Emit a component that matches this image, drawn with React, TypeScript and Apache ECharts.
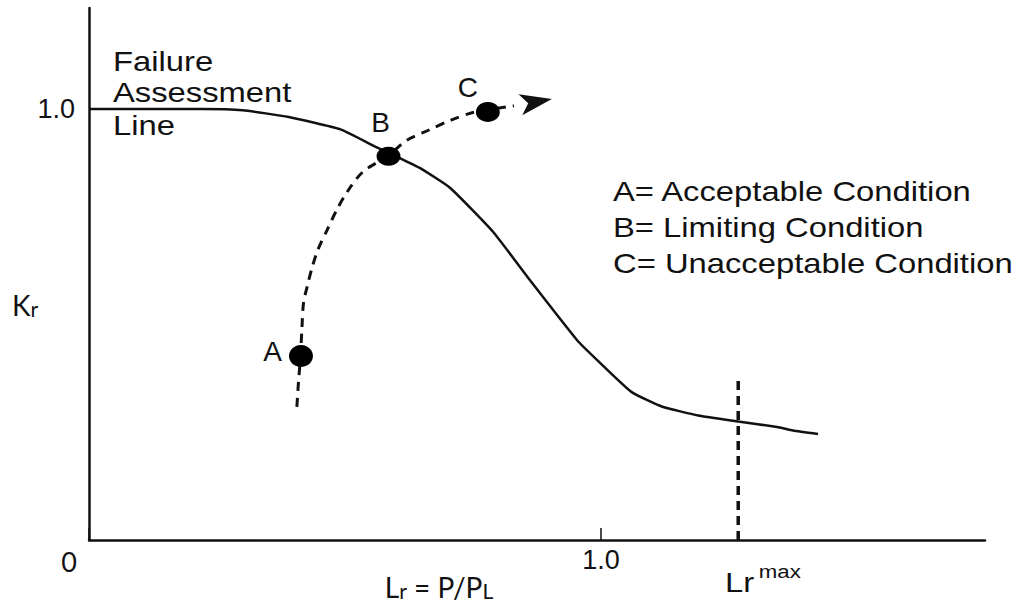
import React, { useEffect, useRef } from "react";
import * as echarts from "echarts";

// Failure Assessment Line (Lr, Kr)
const failureLine: [number, number][] = [
  [0, 1.0], [0.22, 1.0], [0.30, 0.997], [0.39, 0.981], [0.49, 0.953],
  [0.56, 0.912], [0.607, 0.886], [0.646, 0.863], [0.705, 0.817], [0.789, 0.715],
  [0.861, 0.603], [0.953, 0.464], [0.992, 0.418], [1.06, 0.343],
  [1.12, 0.309], [1.19, 0.289], [1.268, 0.275], [1.344, 0.262], [1.375, 0.254],
  [1.424, 0.246],
];

// Loading path (dashed) through A, B, C
const loadingPath: [number, number][] = [
  [0.406, 0.309], [0.409, 0.364], [0.413, 0.425], [0.416, 0.494], [0.419, 0.55],
  [0.426, 0.587], [0.436, 0.633], [0.447, 0.673], [0.465, 0.719], [0.484, 0.766],
  [0.504, 0.807], [0.535, 0.854], [0.584, 0.891], [0.619, 0.926], [0.664, 0.951],
  [0.707, 0.974], [0.748, 0.991], [0.779, 0.998], [0.830, 1.007],
];
const arrowTip: [number, number] = [0.904, 1.023];

const conditionNames = ["A", "B", "C"];
const conditionX = [0.414, 0.585, 0.779];
const conditionY = [0.427, 0.89, 0.993];

const legendLines = [
  "A= Acceptable Condition",
  "B= Limiting Condition",
  "C= Unacceptable Condition",
];
const titleLines = ["Failure", "Assessment", "Line"];

const lrMax = 1.268;
const lrMaxTop = 0.383;
const xTickLabels: Record<number, string> = { 1: "1.0" };
const yTickLabels: Record<number, string> = { 1: "1.0" };

const HELV = "'Liberation Sans', Arial, sans-serif";
const CAL = "Lato, 'Noto Sans', sans-serif";
const INK = "#111";
const SX = 1.17;

export default function App() {
  const ref = useRef<HTMLDivElement>(null);
  useEffect(() => {
    if (!ref.current) return;
    const chart = echarts.init(ref.current, null, { renderer: "svg" });

    const pointStyles = [
      { size: [24, 22], pos: "left", dist: 7, off: [0, -4] },
      { size: [24, 19], pos: "top", dist: 10, off: [-8, 0] },
      { size: [24, 20], pos: "top", dist: 0, off: [-20, 0] },
    ];

    const graphic: any[] = [];
    titleLines.forEach((t, i) => {
      graphic.push({
        type: "text",
        x: 113,
        y: [61, 92, 125][i],
        scaleX: SX,
        style: { text: t, x: 0, y: 0, fontSize: 28, fontFamily: HELV, fill: INK, align: "left", verticalAlign: "middle" },
      });
    });
    legendLines.forEach((t, i) => {
      graphic.push({
        type: "text",
        x: 613,
        y: [191, 227, 263][i],
        scaleX: SX,
        style: { text: t, x: 0, y: 0, fontSize: 28, fontFamily: HELV, fill: INK, align: "left", verticalAlign: "middle" },
      });
    });
    graphic.push({
      type: "text",
      x: 69,
      y: 561,
      style: { text: "0", x: 0, y: 0, fontSize: 27, fontFamily: CAL, fill: INK, align: "center", verticalAlign: "middle" },
    });
    graphic.push({
      type: "text",
      x: 12,
      y: 287,
      style: {
        text: "{a|K}{b|r}",
        x: 0,
        y: 0,
        align: "left",
        verticalAlign: "top",
        rich: {
          a: { fontSize: 28, fontFamily: CAL, fill: INK, lineHeight: 32, verticalAlign: "bottom" },
          b: { fontSize: 21, fontFamily: CAL, fill: INK, lineHeight: 16, verticalAlign: "bottom" },
        },
      },
    });
    graphic.push({
      type: "text",
      x: 439,
      y: 569,
      style: {
        text: "{a|L}{b|r}{a| = P/P}{b|L}",
        x: 0,
        y: 0,
        align: "center",
        verticalAlign: "top",
        rich: {
          a: { fontSize: 28, fontFamily: CAL, fill: INK, lineHeight: 32, verticalAlign: "bottom" },
          b: { fontSize: 21, fontFamily: CAL, fill: INK, lineHeight: 16, verticalAlign: "bottom" },
        },
      },
    });
    graphic.push({
      type: "text",
      x: 725,
      y: 562,
      scaleX: SX,
      style: {
        text: "{a|Lr}{b|max}",
        x: 0,
        y: 0,
        align: "left",
        verticalAlign: "top",
        rich: {
          a: { fontSize: 28, fontFamily: HELV, fill: INK, lineHeight: 34, verticalAlign: "bottom" },
          b: { fontSize: 19, fontFamily: HELV, fill: INK, lineHeight: 12, verticalAlign: "top", padding: [0, 0, 0, 4] },
        },
      },
    });

    chart.setOption({
      animation: false,
      backgroundColor: "#fff",
      grid: { left: 89, right: 41, top: 8, bottom: 68 },
      xAxis: {
        type: "value",
        min: 0,
        max: 1.75,
        interval: 1,
        axisLine: { show: true, onZero: false, lineStyle: { color: INK, width: 2.5 } },
        axisTick: { show: true, inside: true, length: 12, lineStyle: { color: INK, width: 1.5 } },
        axisLabel: {
          show: true,
          margin: 6,
          fontSize: 27,
          fontFamily: HELV,
          color: INK,
          showMaxLabel: false,
          formatter: (v: number) => xTickLabels[v] ?? "",
        },
        splitLine: { show: false },
      },
      yAxis: {
        type: "value",
        min: 0,
        max: 1.234,
        interval: 1,
        axisLine: { show: true, onZero: false, lineStyle: { color: INK, width: 2.5 } },
        axisTick: { show: false },
        axisLabel: {
          show: true,
          margin: 14,
          fontSize: 27,
          fontFamily: HELV,
          color: INK,
          showMaxLabel: false,
          formatter: (v: number) => yTickLabels[v] ?? "",
        },
        splitLine: { show: false },
      },
      graphic,
      series: [
        {
          name: "Failure Assessment Line",
          type: "line",
          data: failureLine,
          showSymbol: false,
          smooth: 0.15,
          lineStyle: { color: INK, width: 2.5 },
          z: 2,
        },
        {
          name: "Loading path",
          type: "line",
          data: loadingPath,
          showSymbol: false,
          smooth: 0.3,
          lineStyle: { color: INK, width: 3, type: [9, 7] },
          markLine: {
            silent: true,
            symbol: ["none", "arrow"],
            symbolSize: [16, 32],
            label: { show: false },
            lineStyle: { color: INK, width: 0, type: "solid", opacity: 1 },
            itemStyle: { color: INK },
            data: [[{ coord: loadingPath[loadingPath.length - 1] }, { coord: arrowTip }]],
          },
          z: 2,
        },
        {
          name: "Lr max",
          type: "line",
          data: [[lrMax, 0], [lrMax, lrMaxTop]],
          showSymbol: false,
          lineStyle: { color: INK, width: 3.5, type: [9, 6] },
          z: 2,
        },
        {
          name: "Conditions",
          type: "scatter",
          z: 3,
          data: conditionNames.map((n, i) => ({
            name: n,
            value: [conditionX[i], conditionY[i]],
            symbolSize: pointStyles[i].size,
            label: {
              show: true,
              position: pointStyles[i].pos,
              distance: pointStyles[i].dist,
              offset: pointStyles[i].off,
              formatter: "{b}",
              fontSize: 28,
              lineHeight: 28,
              fontFamily: HELV,
              color: INK,
            },
          })),
          symbol: "circle",
          itemStyle: { color: "#000", opacity: 1 },
          emphasis: { disabled: true },
        },
      ],
    });
    return () => chart.dispose();
  }, []);
  return (
    <div
      ref={ref}
      style={{ position: "absolute", left: 0, top: 0, width: 1026, height: 608, background: "#fff" }}
    />
  );
}
